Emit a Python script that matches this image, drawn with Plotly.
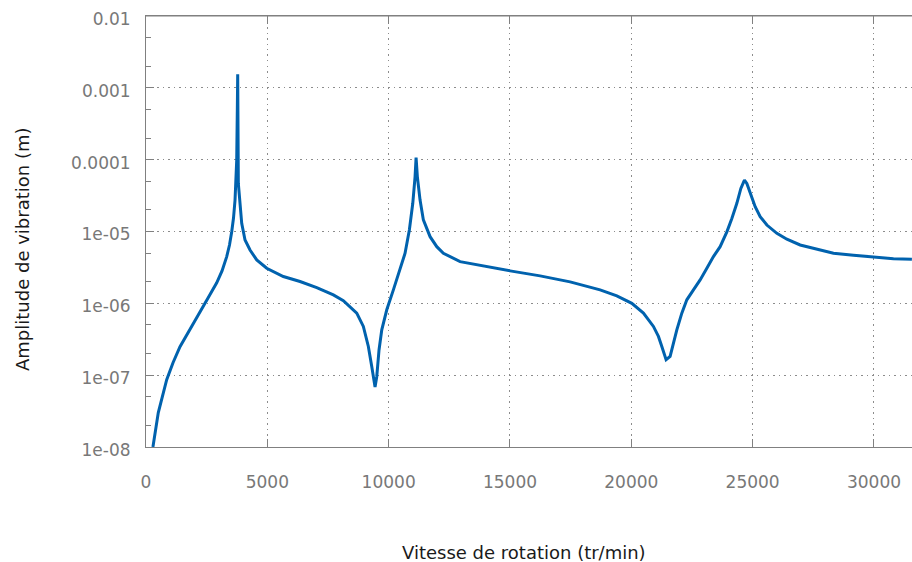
import plotly.graph_objects as go

# Data
speed_rpm = [285, 507, 853, 1113, 1401, 1814, 2226, 2556, 2914, 3133, 3326, 3441,
             3532, 3606, 3669, 3710, 3738, 3763, 3779, 3805, 3875, 3944, 4081, 4287,
             4563, 4975, 5660, 6348, 7036, 7721, 8133, 8409, 8685, 8957, 9163, 9303,
             9398, 9439, 9510, 9604, 9716, 9922, 10194, 10470, 10676, 10853, 10994, 11088,
             11130, 11183, 11294, 11430, 11707, 11983, 12255, 12943, 13767, 15004, 16241, 17477,
             18714, 19403, 20021, 20499, 20911, 21117, 21257, 21434, 21599, 21735, 21875, 22081,
             22288, 22560, 22836, 23112, 23384, 23660, 23937, 24143, 24349, 24514, 24662, 24761,
             24897, 25104, 25310, 25586, 25998, 26410, 26958, 27646, 28331, 29155, 29980, 30804,
             31563]
amplitude_m = [1.0e-8, 3.01e-8, 8.66e-8, 1.49e-7, 2.49e-7, 4.43e-7, 7.62e-7, 1.19e-6, 1.93e-6, 2.83e-6, 4.47e-6, 6.49e-6,
               9.9e-6, 1.54e-5, 2.74e-5, 4.87e-5, 9.8e-5, 4.87e-4, 1.54e-3, 4.67e-5, 2.21e-5, 1.30e-5, 7.62e-6, 5.53e-6,
               4.02e-6, 3.08e-6, 2.36e-6, 2.01e-6, 1.66e-6, 1.31e-6, 1.09e-6, 9.03e-7, 7.31e-7, 4.77e-7, 2.51e-7, 1.32e-7,
               7.8e-8, 6.86e-8, 9.6e-8, 2.26e-7, 4.28e-7, 8.13e-7, 1.54e-6, 2.92e-6, 4.98e-6, 1.05e-5, 2.47e-5, 5.77e-5,
               1.07e-4, 5.77e-5, 2.74e-5, 1.45e-5, 8.47e-6, 6.15e-6, 4.98e-6, 3.81e-6, 3.37e-6, 2.83e-6, 2.41e-6, 1.99e-6,
               1.54e-6, 1.27e-6, 1.0e-6, 7.31e-7, 4.77e-7, 3.46e-7, 2.51e-7, 1.64e-7, 1.82e-7, 2.8e-7, 4.28e-7, 7.31e-7,
               1.12e-6, 1.54e-6, 2.12e-6, 3.08e-6, 4.47e-6, 6.15e-6, 9.9e-6, 1.52e-5, 2.47e-5, 3.98e-5, 5.19e-5, 4.67e-5,
               3.4e-5, 2.21e-5, 1.61e-5, 1.23e-5, 9.44e-6, 7.8e-6, 6.49e-6, 5.66e-6, 4.98e-6, 4.67e-6, 4.38e-6, 4.19e-6,
               4.11e-6]

x_tickvals = [0, 5000, 10000, 15000, 20000, 25000, 30000]
x_ticktext = ["0", "5000", "10000", "15000", "20000", "25000", "30000"]
y_tickvals = [1e-8, 1e-7, 1e-6, 1e-5, 1e-4, 1e-3, 1e-2]
y_ticktext = ["1e-08", "1e-07", "1e-06", "1e-05", "0.0001", "0.001", "0.01"]
y_minor = [m * 10.0 ** e for e in range(-8, -2) for m in (2, 5)]

x_title = "Vitesse de rotation (tr/min)"
y_title = "Amplitude de vibration (m)"

AXIS = "#808080"
GRID = "#8c8c8c"
GRIDDASH = "1.5px,4px"
TICKFONT = dict(family="DejaVu Sans", size=17, color="#787878")

W, H = 912, 562
L, T, B = 146, 16, 562 - 447
plot_w = W - L
x_max = plot_w * 5000 / 121.33

fig = go.Figure()
fig.add_trace(go.Scatter(x=speed_rpm, y=amplitude_m, mode="lines",
                         line=dict(color="#0062AE", width=3), showlegend=False,
                         hoverinfo="skip"))

fig.update_layout(
    width=W, height=H,
    margin=dict(l=L, r=0, t=T, b=B, pad=0),
    paper_bgcolor="white", plot_bgcolor="white",
    hovermode=False,
    xaxis=dict(range=[0, x_max], tickvals=x_tickvals, ticktext=x_ticktext,
               showline=True, linecolor=AXIS, linewidth=1, mirror="ticks",
               ticks="inside", ticklen=8, tickcolor=AXIS, tickfont=TICKFONT,
               ticklabelstandoff=20,
               showgrid=True, gridcolor=GRID, griddash=GRIDDASH, gridwidth=1,
               zeroline=False),
    yaxis=dict(type="log", range=[-8, -2], tickvals=y_tickvals, ticktext=y_ticktext,
               showline=True, linecolor=AXIS, linewidth=1,
               ticks="inside", ticklen=8, tickcolor=AXIS, tickfont=TICKFONT,
               ticklabelstandoff=11, ticklabelshift=3,
               minor=dict(tickvals=y_minor, ticks="inside", ticklen=5, tickcolor=AXIS, showgrid=False),
               showgrid=True, gridcolor=GRID, griddash=GRIDDASH, gridwidth=1,
               zeroline=False),
    shapes=[dict(type="line", xref="paper", yref="paper", x0=0, x1=1, y0=1, y1=1,
                 line=dict(color=AXIS, width=1), layer="above")],
    annotations=[
        dict(text=x_title, xref="paper", yref="paper", x=(524 - 146) / plot_w, y=(447 - 552) / 431,
             showarrow=False, xanchor="center", yanchor="middle",
             font=dict(family="DejaVu Sans", size=18, color="#1a1a1a")),
        dict(text=y_title, xref="paper", yref="paper", x=(22 - 146) / plot_w, y=(447 - 250) / 431,
             showarrow=False, xanchor="center", yanchor="middle", textangle=-90,
             font=dict(family="DejaVu Sans", size=18, color="#1a1a1a")),
    ],
)

# Remove the default 8 px page margin so the 912x562 figure fills the window exactly.
fig.write_html("out.html", config={"displayModeBar": False},
               post_script="document.body.style.margin='0';document.body.style.overflow='hidden';")
